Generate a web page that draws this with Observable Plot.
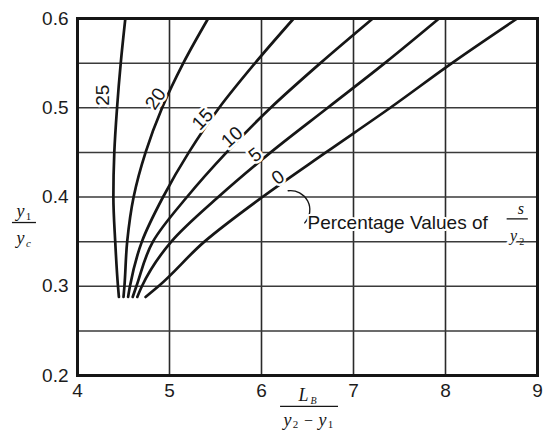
<!DOCTYPE html>
<html>
<head>
<meta charset="utf-8">
<script src="https://cdn.jsdelivr.net/npm/d3@7"></script>
<script src="https://cdn.jsdelivr.net/npm/@observablehq/plot@0.6"></script>
<style>
  body { margin: 0; background: #fff; }
  #chart svg { display: block; }
</style>
</head>
<body>
<div id="chart"></div>
<script>
// Percentage values of s/y2, one curve each
const percents = ["25", "20", "15", "10", "5", "0"];

// y1/yc levels at which each curve was read
const ratioLevels = [0.288, 0.30, 0.35, 0.40, 0.45, 0.50, 0.55, 0.60];

// L_B/(y2 - y1) along each curve, at the ratio levels above
const len25 = [4.45, 4.44, 4.41, 4.39, 4.40, 4.43, 4.47, 4.52];
const len20 = [4.50, 4.51, 4.54, 4.61, 4.74, 4.92, 5.15, 5.42];
const len15 = [4.55, 4.57, 4.70, 4.93, 5.21, 5.54, 5.93, 6.35];
const len10 = [4.60, 4.64, 4.82, 5.19, 5.62, 6.10, 6.64, 7.21];
const len5  = [4.65, 4.70, 5.02, 5.53, 6.10, 6.72, 7.34, 7.93];
const len0  = [4.74, 4.88, 5.38, 6.01, 6.70, 7.40, 8.07, 8.78];
const lengths = [len25, len20, len15, len10, len5, len0];

// Axis ticks and grid
const xTicks = [4, 5, 6, 7, 8, 9];
const yTicks = [0.2, 0.3, 0.4, 0.5, 0.6];
const yGrid = [0.25, 0.3, 0.35, 0.4, 0.45, 0.5, 0.55];

// Where each curve's percentage label sits, and its tilt
const labelX = [4.28, 4.85, 5.36, 5.68, 5.93, 6.18];
const labelY = [0.514, 0.510, 0.487, 0.467, 0.447, 0.422];
const labelAngle = [-90, -56, -46, -42, -38, -35];

const rows = percents.flatMap((p, i) =>
  ratioLevels.map((r, j) => ({p, x: lengths[i][j], y: r}))
);
const labels = percents.map((p, i) => ({p, x: labelX[i], y: labelY[i], a: labelAngle[i]}));

const ink = "#161616";
const serif = "Liberation Serif, DejaVu Serif, serif";
const halo = {stroke: "white", strokeWidth: 5, paintOrder: "stroke"};

// Small helper for italic math pieces placed in scale units
const mathText = (str, x, y, size, extra = {}) =>
  Plot.text([str], {x: () => x, y: () => y, text: d => d, fontFamily: serif,
    fontStyle: "italic", fontSize: size, fill: ink, textAnchor: "middle", ...extra});

const chart = Plot.plot({
  width: 545,
  height: 430,
  marginLeft: 77,
  marginRight: 8,
  marginTop: 18,
  marginBottom: 55,
  style: {fontFamily: "Liberation Sans, Arial, sans-serif", color: "#1c1c1c", background: "white"},
  x: {domain: [4, 9]},
  y: {domain: [0.2, 0.6]},
  marks: [
    Plot.gridX(xTicks, {stroke: "#2a2a2a", strokeOpacity: 1, strokeWidth: 1.6}),
    Plot.gridY(yGrid, {stroke: "#3a3a3a", strokeOpacity: 1, strokeWidth: 1.5}),
    Plot.axisX(xTicks, {tickSize: 0, tickPadding: 8, fontSize: 19, label: null}),
    Plot.axisY(yTicks, {tickSize: 0, tickPadding: 9, fontSize: 19, label: null, tickFormat: d => d.toFixed(1)}),
    Plot.line(rows, {x: "x", y: "y", z: "p", curve: "monotone-y", stroke: ink, strokeWidth: 2.7}),
    Plot.text(labels, {x: "x", y: "y", text: "p", rotate: "a", fontSize: 19, fill: ink, ...halo}),

    // Leader from the 0 % curve to its note
    Plot.arrow([0], {x1: () => 6.29, y1: () => 0.407, x2: () => 6.47, y2: () => 0.371,
      bend: 70, headLength: 0, stroke: ink, strokeWidth: 1.4}),
    Plot.text(["Percentage Values of"], {x: () => 6.50, y: () => 0.371, text: d => d,
      textAnchor: "start", fontSize: 19, fill: ink, ...halo, strokeWidth: 4}),
    mathText("s", 8.82, 0.387, 16),
    Plot.ruleY([0.3755], {x1: 8.67, x2: 8.90, stroke: ink, strokeWidth: 1.3}),
    mathText("y", 8.74, 0.356, 16, halo),
    mathText("2", 8.83, 0.350, 10, {fontStyle: "normal"}),

    // y1 / yc
    mathText("y", 3.38, 0.384, 18),
    mathText("1", 3.467, 0.378, 11, {fontStyle: "normal"}),
    Plot.ruleY([0.3714], {x1: 3.293, x2: 3.554, stroke: ink, strokeWidth: 1.3}),
    mathText("y", 3.38, 0.354, 18),
    mathText("c", 3.467, 0.348, 11),

    // L_B / (y2 - y1)
    mathText("L", 6.457, 0.178, 18),
    mathText("B", 6.565, 0.172, 10),
    Plot.ruleY([0.1653], {x1: 6.207, x2: 6.837, stroke: ink, strokeWidth: 1.3}),
    mathText("y", 6.283, 0.1496, 18),
    mathText("2", 6.37, 0.1451, 11, {fontStyle: "normal"}),
    mathText("\u2212", 6.511, 0.1496, 16, {fontStyle: "normal"}),
    mathText("y", 6.663, 0.1496, 18),
    mathText("1", 6.75, 0.1451, 11, {fontStyle: "normal"}),

    Plot.frame({stroke: ink, strokeWidth: 3})
  ]
});

document.getElementById("chart").append(chart);
</script>
</body>
</html>
